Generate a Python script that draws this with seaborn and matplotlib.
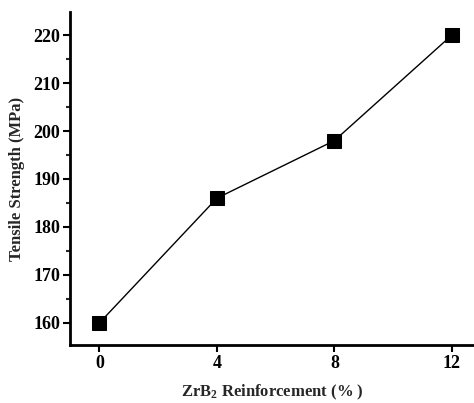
import matplotlib
matplotlib.use("Agg")
import matplotlib.pyplot as plt
import seaborn as sns
import pandas as pd
from matplotlib.ticker import MultipleLocator

reinforcement = [0, 4, 8, 12]
strength = [160, 186, 198, 220]

sns.set_style("ticks")
plt.rcParams['font.family'] = ['Liberation Serif', 'DejaVu Serif']
plt.rcParams['font.weight'] = 'bold'
plt.rcParams['mathtext.fontset'] = 'custom'
plt.rcParams['mathtext.rm'] = 'Liberation Serif:bold'
plt.rcParams['mathtext.bf'] = 'Liberation Serif:bold'
plt.rcParams['mathtext.it'] = 'Liberation Serif:bold'

df = pd.DataFrame({"x": reinforcement, "y": strength})

fig = plt.figure(figsize=(4.74, 4.03), dpi=100)
ax = fig.add_axes([0.1477, 0.1439, 0.8523, 0.8263])
sns.lineplot(data=df, x="x", y="y", ax=ax, color="black", linewidth=1,
             marker="s", markersize=10, markeredgecolor="black",
             markerfacecolor="black")

ax.set_xlim(-1, 12.75)
ax.set_ylim(155.4, 224.8)
ax.set_xticks(reinforcement)
ax.yaxis.set_major_locator(MultipleLocator(10))
ax.yaxis.set_minor_locator(MultipleLocator(5))
for s in ["top", "right"]:
    ax.spines[s].set_visible(False)
for s in ["left", "bottom"]:
    ax.spines[s].set_linewidth(2)
    ax.spines[s].set_color("black")
ax.tick_params(axis="both", which="major", direction="out", length=5, width=1.5,
               labelsize=13, colors="black")
ax.tick_params(axis="x", which="major", pad=2)
ax.tick_params(axis="y", which="major", pad=2)
ax.tick_params(axis="y", which="minor", direction="out", length=3, width=1.5)
for lab in ax.get_xticklabels() + ax.get_yticklabels():
    lab.set_fontweight("bold")
ax.set_xlabel("ZrB$_{\\mathrm{2}}$ Reinforcement (% )", fontsize=12, fontweight="bold", labelpad=8)
ax.set_ylabel("Tensile Strength (MPa)", fontsize=12, fontweight="bold", labelpad=6)
fig.savefig("out.png", dpi=100)
